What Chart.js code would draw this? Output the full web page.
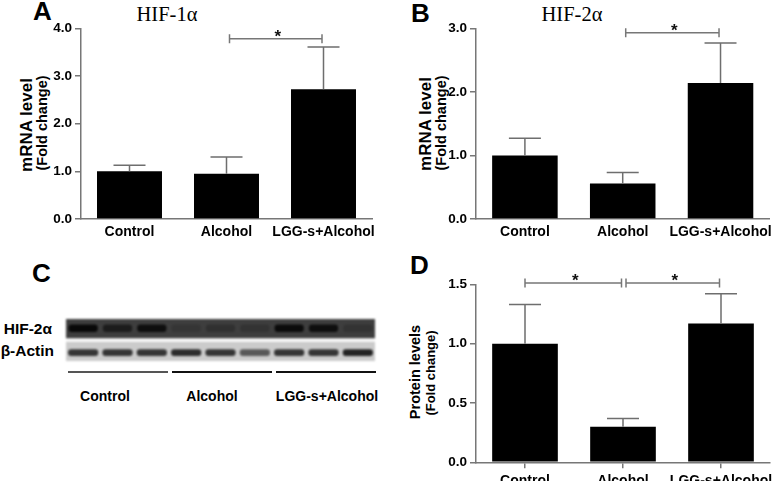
<!DOCTYPE html>
<html>
<head>
<meta charset="utf-8">
<script src="https://cdn.jsdelivr.net/npm/chart.js@4.4.1/dist/chart.umd.min.js"></script>
<style>
  body { margin: 0; background: #fff; }
  #fig { position: relative; width: 778px; height: 481px; overflow: hidden; background: #fff;
         font-family: 'Liberation Sans', Arial, sans-serif; color: #000; }
  canvas { position: absolute; }
  .letter { position: absolute; font-weight: bold; font-size: 26px; line-height: 1; }
  .gene { position: absolute; font-family: 'Liberation Serif', 'Times New Roman', serif; font-size: 20.5px;
          line-height: 1; white-space: nowrap; transform: translate(-50%, -50%); }
  .ytitle { position: absolute; font-weight: bold; line-height: 1; white-space: nowrap;
            transform: translate(-50%, -50%) rotate(-90deg); }
  .lbl { position: absolute; font-weight: bold; line-height: 1; white-space: nowrap; }
  .grp { position: absolute; height: 2px; background: #111; }
</style>
</head>
<body>
<div id="fig">
  <div class="letter" style="left:33px;top:-2px">A</div>
  <div class="letter" style="left:411px;top:0px">B</div>
  <div class="letter" style="left:32px;top:260px">C</div>
  <div class="letter" style="left:410px;top:252px">D</div>

  <div class="gene" style="left:167px;top:14px">HIF-1α</div>
  <div class="gene" style="left:572px;top:14px">HIF-2α</div>

  <div class="ytitle" style="left:26px;top:125px;font-size:17px">mRNA level</div>
  <div class="ytitle" style="left:42px;top:123px;font-size:14.5px">(Fold change)</div>
  <div class="ytitle" style="left:425px;top:124px;font-size:17px">mRNA level</div>
  <div class="ytitle" style="left:441px;top:123px;font-size:14.5px">(Fold change)</div>
  <div class="ytitle" style="left:415px;top:372px;font-size:14.5px">Protein levels</div>
  <div class="ytitle" style="left:430px;top:373px;font-size:13px">(Fold change)</div>

  <canvas id="chartA" width="390" height="250" style="left:0;top:0"></canvas>
  <canvas id="chartB" width="388" height="250" style="left:390px;top:0"></canvas>
  <canvas id="chartD" width="388" height="231" style="left:390px;top:250px"></canvas>

  <!-- western blot -->
  <div class="lbl" style="left:52px;top:329px;font-size:15.5px;transform:translate(-100%,-50%)">HIF-2α</div>
  <div class="lbl" style="left:54px;top:351px;font-size:15.5px;transform:translate(-100%,-50%)">β-Actin</div>
  <canvas id="blot" width="309" height="42" style="left:66px;top:319px;filter:blur(0.8px)"></canvas>
  <div class="grp" style="left:68px;top:371px;width:100px;background:#555"></div>
  <div class="grp" style="left:172px;top:371px;width:100px"></div>
  <div class="grp" style="left:276px;top:371px;width:100px"></div>
  <div id="blotGroups"></div>
</div>

<script>
// --- data ---
const groups = ['Control', 'Alcohol', 'LGG-s+Alcohol'];

// A: HIF-1α mRNA (fold change), mean and upper error
const hif1Mean = [1.00, 0.95, 2.72];
const hif1Err  = [0.13, 0.35, 0.89];
const hif1Ticks = [0, 1, 2, 3, 4];
const hif1Sig = [[1, 2, 3.78]];          // [from group, to group, bracket level]

// B: HIF-2α mRNA
const hif2Mean = [1.00, 0.56, 2.14];
const hif2Err  = [0.27, 0.17, 0.63];
const hif2Ticks = [0, 1, 2, 3];
const hif2Sig = [[1, 2, 2.93]];

// D: HIF-2α protein
const protMean = [1.00, 0.30, 1.17];
const protErr  = [0.33, 0.07, 0.25];
const protTicks = [0, 0.5, 1.0, 1.5];
const protSig = [[0, 1, 1.51], [1, 2, 1.51]];

// C: blot lanes, band intensity 0..1
const lanes = ['1', '2', '3', '4', '5', '6', '7', '8', '9'];
const hif2Band  = [0.95, 0.6, 0.85, 0.15, 0.25, 0.2, 0.9, 0.85, 0.2];
const actinBand = [0.85, 0.85, 0.85, 0.9, 0.85, 0.65, 0.85, 0.85, 0.95];

const FONT = "'Liberation Sans', Arial, sans-serif";

// error bars (upper only) + significance brackets
const errorBars = {
  id: 'errorBars',
  afterDatasetsDraw(chart, args, o) {
    const {ctx} = chart;
    const x = chart.scales.x, y = chart.scales.y;
    const mean = chart.data.datasets[0].data;
    ctx.save();
    ctx.lineWidth = 1.5;
    ctx.strokeStyle = '#6e6e6e';
    o.err.forEach((e, i) => {
      const cx = x.getPixelForValue(i);
      const y0 = y.getPixelForValue(mean[i]);
      const y1 = y.getPixelForValue(mean[i] + e);
      ctx.beginPath();
      ctx.moveTo(cx, y0); ctx.lineTo(cx, y1);
      ctx.moveTo(cx - 16, y1); ctx.lineTo(cx + 16, y1);
      ctx.stroke();
    });
    o.sig.forEach(([a, b, h]) => {
      const x0 = x.getPixelForValue(a) + (a > 0 ? 3 : 0);
      const x1 = x.getPixelForValue(b) - 1.5;
      const yy = y.getPixelForValue(h);
      ctx.strokeStyle = '#777';
      ctx.beginPath();
      ctx.moveTo(x0, yy); ctx.lineTo(x1, yy);
      ctx.moveTo(x0, yy - 4.5); ctx.lineTo(x0, yy + 4.5);
      ctx.moveTo(x1, yy - 4.5); ctx.lineTo(x1, yy + 4.5);
      ctx.stroke();
      ctx.fillStyle = '#111';
      ctx.font = 'bold 17px ' + FONT;
      ctx.textAlign = 'center';
      ctx.textBaseline = 'alphabetic';
      ctx.fillText('*', (x0 + x1) / 2 + 2, yy + 3);
    });
    ctx.restore();
  }
};

function barChart(id, mean, err, sig, yTicks, geo) {
  const axisGray = '#777';
  return new Chart(document.getElementById(id), {
    type: 'bar',
    data: {
      labels: groups,
      datasets: [{ data: mean, backgroundColor: '#000', borderWidth: 0, barPercentage: 0.67, categoryPercentage: 1 }]
    },
    options: {
      responsive: false,
      animation: false,
      layout: { padding: { top: geo.top, right: geo.right, left: 0, bottom: 0 } },
      plugins: {
        legend: { display: false },
        tooltip: { enabled: false },
        errorBars: { err: err, sig: sig }
      },
      scales: {
        x: {
          grid: geo.xTicks
            ? { drawOnChartArea: false, offset: false, tickLength: 6, color: axisGray, lineWidth: 1.5 }
            : { display: false, drawTicks: false },
          border: { color: axisGray, width: 1.5 },
          ticks: { color: '#000', padding: geo.xPad, maxRotation: 0, autoSkip: false,
                   font: { family: FONT, size: 14, weight: 'bold' } },
          afterFit: s => { s.height = geo.xh; }
        },
        y: {
          min: yTicks[0],
          max: yTicks[yTicks.length - 1],
          afterBuildTicks: s => { s.ticks = yTicks.map(v => ({ value: v })); },
          grid: { drawOnChartArea: false, tickLength: 6, color: axisGray, lineWidth: 1.5 },
          border: { color: axisGray, width: 1.5 },
          ticks: { color: '#000', padding: 3, callback: v => v.toFixed(1), font: { family: FONT, size: 13.5, weight: 'bold' } },
          afterFit: s => { s.width = geo.yw; }
        }
      }
    },
    plugins: [errorBars]
  });
}

barChart('chartA', hif1Mean, hif1Err, hif1Sig, hif1Ticks, { top: 28.3, right: 18, yw: 81, xh: 31, xTicks: false, xPad: 5 });
barChart('chartB', hif2Mean, hif2Err, hif2Sig, hif2Ticks, { top: 28.3, right: 8, yw: 86, xh: 31, xTicks: false, xPad: 5 });
barChart('chartD', protMean, protErr, protSig, protTicks, { top: 34.3, right: 8, yw: 86, xh: 18.7, xTicks: true, xPad: 4 });

// --- panel C: blot drawn as floating bars ---
function mix(c1, c2, t) {
  const p = c => [1, 3, 5].map(i => parseInt(c.substr(i, 2), 16));
  const a = p(c1), b = p(c2);
  return 'rgb(' + a.map((v, i) => Math.round(v + (b[i] - v) * t)).join(',') + ')';
}
const hifBg = '#3e3e3e', actinBg = '#cbcbcb';

const blotRows = {
  id: 'blotRows',
  beforeDatasetsDraw(chart) {
    const {ctx, chartArea: a} = chart;
    const y = chart.scales.y;
    ctx.save();
    ctx.fillStyle = hifBg;
    ctx.fillRect(a.left, y.getPixelForValue(1), a.width, y.getPixelForValue(0.54) - y.getPixelForValue(1));
    ctx.fillStyle = actinBg;
    ctx.fillRect(a.left, y.getPixelForValue(0.46), a.width, y.getPixelForValue(0) - y.getPixelForValue(0.46));
    ctx.restore();
  }
};

new Chart(document.getElementById('blot'), {
  type: 'bar',
  data: {
    labels: lanes,
    datasets: [
      {
        data: hif2Band.map(() => [0.69, 0.87]),
        backgroundColor: hif2Band.map(v => mix(hifBg, '#050505', v)),
        barPercentage: 0.85, categoryPercentage: 1, grouped: false,
        borderRadius: 3, borderSkipped: false
      },
      {
        data: actinBand.map(() => [0.12, 0.28]),
        backgroundColor: actinBand.map(v => mix(actinBg, '#1a1a1a', v)),
        barPercentage: 0.88, categoryPercentage: 1, grouped: false,
        borderRadius: 3, borderSkipped: false
      }
    ]
  },
  options: {
    responsive: false,
    animation: false,
    layout: { padding: 0 },
    plugins: { legend: { display: false }, tooltip: { enabled: false } },
    scales: { x: { display: false }, y: { display: false, min: 0, max: 1 } }
  },
  plugins: [blotRows]
});

// group labels under the blot
const groupCenters = [105, 212, 327];
const holder = document.getElementById('blotGroups');
groups.forEach((g, i) => {
  const d = document.createElement('div');
  d.className = 'lbl';
  d.style.cssText = 'left:' + groupCenters[i] + 'px;top:396px;font-size:14px;transform:translate(-50%,-50%)';
  d.textContent = g;
  holder.appendChild(d);
});
</script>
</body>
</html>
